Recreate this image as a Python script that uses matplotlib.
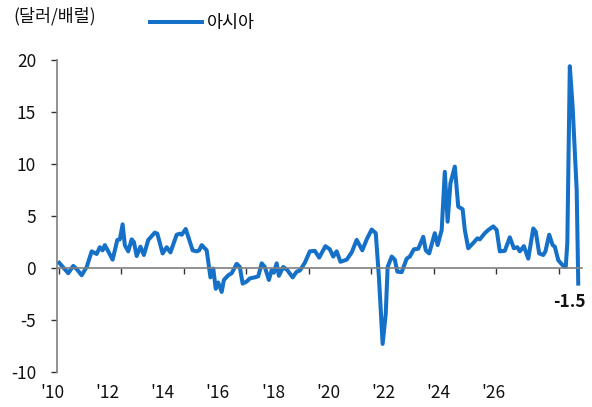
import matplotlib
matplotlib.use('Agg')
import matplotlib.pyplot as plt
import matplotlib.transforms as mtransforms

plt.rcParams['font.family'] = ['Noto Sans CJK KR', 'DejaVu Sans']
plt.rcParams['axes.unicode_minus'] = False

# 아시아 정제마진 (달러/배럴), 그림에서 읽은 값
years = [2010.01, 2010.30, 2010.46, 2010.57, 2010.73, 2010.89, 2011.05, 2011.21, 2011.31, 2011.40,
         2011.47, 2011.58, 2011.72, 2011.87, 2011.95, 2012.04, 2012.11, 2012.22, 2012.33, 2012.40,
         2012.49, 2012.61, 2012.72, 2012.86, 2013.07, 2013.15, 2013.32, 2013.45, 2013.57, 2013.77,
         2013.87, 2013.93, 2014.06, 2014.28, 2014.41, 2014.49, 2014.57, 2014.73, 2014.85, 2014.94,
         2015.02, 2015.10, 2015.21, 2015.28, 2015.42, 2015.53, 2015.69, 2015.79, 2015.88, 2016.01,
         2016.11, 2016.27, 2016.38, 2016.49, 2016.59, 2016.72, 2016.81, 2016.88, 2016.97, 2017.04,
         2017.18, 2017.31, 2017.48, 2017.61, 2017.71, 2017.87, 2018.03, 2018.19, 2018.33, 2018.53,
         2018.67, 2018.78, 2018.89, 2019.01, 2019.21, 2019.37, 2019.53, 2019.71, 2019.85, 2020.01,
         2020.14, 2020.24, 2020.36, 2020.46, 2020.52, 2020.65, 2020.75, 2020.83, 2020.97, 2021.13,
         2021.23, 2021.36, 2021.50, 2021.55, 2021.66, 2021.74, 2021.85, 2022.03, 2022.12, 2022.25,
         2022.35, 2022.44, 2022.53, 2022.67, 2022.78, 2022.92, 2022.99, 2023.10, 2023.26, 2023.39,
         2023.47, 2023.63, 2023.74, 2023.90, 2024.01, 2024.11, 2024.27, 2024.43, 2024.56, 2024.67,
         2024.75, 2024.88, 2025.02, 2025.18, 2025.26, 2025.37, 2025.50, 2025.57, 2025.69, 2025.80,
         2025.87, 2025.98, 2026.14, 2026.22, 2026.27, 2026.35, 2026.44, 2026.57, 2026.62]
values = [0.5, -0.5, 0.2, -0.1, -0.7, 0.1, 1.6, 1.35, 2.0, 1.7,
          2.2, 1.6, 0.8, 2.7, 2.75, 4.2, 2.2, 1.6, 2.75, 2.5,
          1.15, 2.05, 1.25, 2.7, 3.4, 3.3, 1.4, 2.0, 1.5, 3.2,
          3.3, 3.2, 3.75, 1.7, 1.6, 1.7, 2.2, 1.7, -0.9, -0.05,
          -2.0, -1.4, -2.3, -1.15, -0.7, -0.5, 0.4, 0.1, -1.5, -1.3,
          -1.0, -0.9, -0.8, 0.45, 0.1, -1.15, -0.2, -0.45, 0.45, -0.75,
          0.1, -0.2, -0.9, -0.35, -0.25, 0.5, 1.6, 1.65, 1.0, 2.1,
          1.8, 1.1, 1.6, 0.6, 0.8, 1.5, 2.7, 1.7, 2.75, 3.7,
          3.35, -0.8, -7.3, -4.4, 0.1, 1.1, 0.8, -0.35, -0.4, 0.9,
          1.1, 1.8, 1.85, 2.2, 3.0, 1.7, 1.4, 3.35, 2.2, 3.65,
          9.25, 4.45, 8.15, 9.75, 5.9, 5.65, 3.65, 1.9, 2.4, 2.85,
          2.75, 3.35, 3.65, 4.0, 3.65, 1.6, 1.65, 2.95, 1.9, 2.0,
          1.6, 2.1, 0.9, 3.8, 3.5, 1.4, 1.25, 1.6, 3.2, 2.2,
          2.05, 0.75, 0.2, 0.1, 2.4, 19.4, 15.5, 7.5, -1.5]

tick_years = list(range(2010, 2027, 2))
tick_labels = ["'10", "'12", "'14", "'16", "'18", "'20", "'22", "'24", "'26"]
y_ticks = [-10, -5, 0, 5, 10, 15, 20]

blue = '#1570c8'
gray = '#7f7f7f'

fig = plt.figure(figsize=(5.92, 4.07), dpi=100)
ax = fig.add_axes([57 / 592, 1 - 372 / 407, 525 / 592, 312 / 407])

ax.plot(years, values, color=blue, lw=2.9, solid_joinstyle='round', label='아시아')

ax.set_xlim(2009.94, 2026.74)
ax.set_ylim(-10, 20)

for s in ['top', 'right']:
    ax.spines[s].set_visible(False)
ax.spines['left'].set_color(gray)
ax.spines['left'].set_linewidth(1.2)
ax.spines['bottom'].set_position(('data', 0))
ax.spines['bottom'].set_color(gray)
ax.spines['bottom'].set_linewidth(1.2)
ax.set_axisbelow(True)

ax.set_yticks(y_ticks)
ax.set_yticklabels([str(v) for v in y_ticks])
ax.tick_params(axis='y', direction='out', length=4, width=1, color='#333333',
               pad=11, labelsize=12.5, labelcolor='#111111')
ax.set_xticks(tick_years)
ax.set_xticklabels([])
ax.tick_params(axis='x', direction='out', length=4, width=1, color='#333333')

# 연도 라벨은 축 아래쪽에 따로 배치
trans = mtransforms.blended_transform_factory(ax.transAxes, fig.transFigure)
n = len(tick_labels)
for i, lab in enumerate(tick_labels):
    fx = -0.0095 + i * (0.8415 / (n - 1))
    ax.text(fx, 1 - 393 / 407, lab, transform=trans, ha='center', va='center',
            fontsize=12.5, color='#111111')

ax.annotate(f'{values[-1]}', xy=(years[-1], values[-1]), xytext=(-6, -13),
            textcoords='offset points', ha='center', va='center',
            fontsize=12.5, fontweight='bold', color='#111111')

fig.text(13 / 592, 1 - 16 / 407, '(달러/배럴)', ha='left', va='center',
         fontsize=12.5, color='#111111')

ax.legend(loc='center left', bbox_to_anchor=(150 / 592, 1 - 23 / 407),
          bbox_transform=fig.transFigure, frameon=False, borderpad=0,
          borderaxespad=0, handlelength=3.0, handletextpad=0.25,
          prop={'size': 12.5})

fig.savefig('out.png', dpi=100)
